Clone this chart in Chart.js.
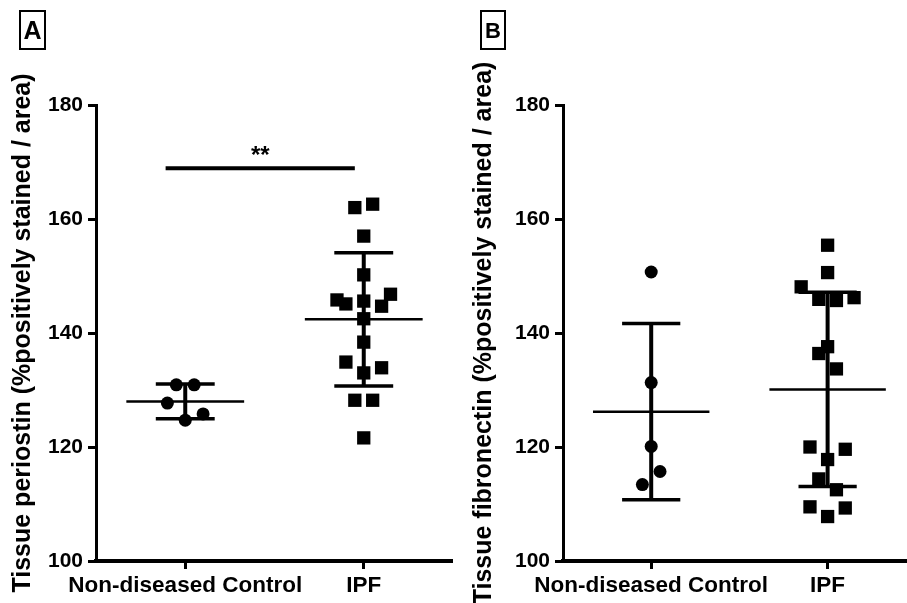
<!DOCTYPE html>
<html>
<head>
<meta charset="utf-8">
<script src="https://cdn.jsdelivr.net/npm/chart.js@4.4.0/dist/chart.umd.min.js"></script>
<style>
body{margin:0;background:#fff;width:907px;height:603px;overflow:hidden;position:relative;font-family:"Liberation Sans",Arial,sans-serif;}
.wrap{position:absolute;top:0;height:603px;}
#wa{left:0;width:453px;}
#wb{left:467px;width:440px;}
.tag{position:absolute;top:10px;height:36px;border:2px solid #000;font-weight:bold;text-align:center;line-height:37px;}
</style>
</head>
<body>
<div class="wrap" id="wa"><canvas id="ca" width="453" height="603"></canvas></div>
<div class="wrap" id="wb"><canvas id="cb" width="440" height="603"></canvas></div>
<div class="tag" style="left:19px;width:23px;font-size:25px">A</div>
<div class="tag" style="left:480px;width:22px;font-size:22px">B</div>
<script>
var groups = ['Non-diseased Control', 'IPF'];

// panel A: periostin
var periCtrl  = [130.9, 130.9, 127.7, 124.7, 125.8];
var periCtrlX = [-0.05, 0.05, -0.1, 0, 0.1];
var periIpf   = [162.0, 162.6, 157.0, 150.2, 145.8, 145.1, 145.6, 146.8, 144.7, 142.5, 138.4, 134.9, 133.9, 133.0, 128.2, 128.2, 121.6];
var periIpfX  = [-0.05, 0.05, 0, 0, -0.15, -0.1, 0, 0.15, 0.1, 0, 0, -0.1, 0.1, 0, -0.05, 0.05, 0];
var periMean  = [128.0, 142.4];
var periSd    = [3.05, 11.7];
var sigX = [-0.11, 0.95];
var sigY = 168.9;
var sigText = '**';

// panel B: fibronectin
var fibCtrl  = [150.7, 131.3, 120.1, 115.7, 113.4];
var fibCtrlX = [0, 0, 0, 0.05, -0.05];
var fibIpf   = [155.4, 150.6, 148.1, 145.9, 145.7, 146.2, 137.6, 136.4, 133.7, 120.0, 119.6, 117.8, 114.4, 112.5, 109.5, 107.8, 109.3];
var fibIpfX  = [0, 0, -0.15, -0.05, 0.05, 0.15, 0, -0.05, 0.05, -0.1, 0.1, 0, -0.05, 0.05, -0.1, 0, 0.1];
var fibMean  = [126.2, 130.1];
var fibSd    = [15.45, 17.05];

var black = '#000';
var font = 'Liberation Sans';

function seg(x1, y1, x2, y2, w) {
  return {
    data: [{x: x1, y: y1}, {x: x2, y: y2}],
    showLine: true, borderColor: black, borderWidth: w,
    pointRadius: 0, borderCapStyle: 'butt', clip: false
  };
}

var sigPlugin = {
  id: 'sig',
  afterDatasetsDraw: function(chart, args, opts) {
    if (!opts.text) return;
    var ctx = chart.ctx, x = chart.scales.x, y = chart.scales.y;
    ctx.save();
    ctx.fillStyle = black;
    ctx.font = 'bold 24px "' + font + '"';
    ctx.textAlign = 'center';
    ctx.textBaseline = 'alphabetic';
    ctx.fillText(opts.text, x.getPixelForValue(opts.x), y.getPixelForValue(opts.y) - 5);
    ctx.restore();
  }
};

function makePanel(id, ctrl, ctrlX, ipf, ipfX, mean, sd, title, xMax, titlePad, sig) {
  var ds = [];
  ds.push({
    data: ctrl.map(function(v, i) { return {x: ctrlX[i], y: v}; }),
    pointStyle: 'circle', pointRadius: 6.5, backgroundColor: black, borderWidth: 0, clip: false
  });
  ds.push({
    data: ipf.map(function(v, i) { return {x: 1 + ipfX[i], y: v}; }),
    pointStyle: 'rect', pointRadius: 9.4, backgroundColor: black, borderWidth: 0, clip: false
  });
  for (var g = 0; g < mean.length; g++) {
    var m = mean[g], s = sd[g];
    ds.push(seg(g - 0.33, m, g + 0.33, m, 2.5));
    ds.push(seg(g, m - s, g, m + s, 4));
    ds.push(seg(g - 0.165, m + s, g + 0.165, m + s, 3.5));
    ds.push(seg(g - 0.165, m - s, g + 0.165, m - s, 3.5));
  }
  if (sig) ds.push(seg(sig.x[0], sig.y, sig.x[1], sig.y, 4));

  new Chart(document.getElementById(id), {
    type: 'scatter',
    data: {datasets: ds},
    plugins: [sigPlugin],
    options: {
      responsive: false,
      animation: false,
      layout: {autoPadding: false, padding: {top: 105, right: 0, left: 0, bottom: 0}},
      plugins: {
        legend: {display: false},
        tooltip: {enabled: false},
        sig: sig ? {text: sig.text, x: (sig.x[0] + sig.x[1]) / 2, y: sig.y} : {}
      },
      scales: {
        x: {
          type: 'linear', min: -0.5, max: xMax,
          afterBuildTicks: function(s) { s.ticks = groups.map(function(c, i) { return {value: i}; }); },
          afterFit: function(s) { s.height = 42; },
          ticks: {
            callback: function(v) { return groups[v]; },
            color: black, font: {family: font, size: 22.5, weight: 'bold'},
            padding: 3, maxRotation: 0, autoSkip: false
          },
          grid: {drawOnChartArea: false, drawTicks: true, tickLength: 8, tickWidth: 3, tickColor: black, color: black},
          border: {display: true, width: 4, color: black}
        },
        y: {
          min: 100, max: 180,
          afterFit: function(s) { s.width = 96; },
          ticks: {stepSize: 20, color: black, font: {family: font, size: 21, weight: 'bold'}, padding: 5},
          grid: {drawOnChartArea: false, drawTicks: true, tickLength: 8, tickWidth: 3, tickColor: black, color: black},
          border: {display: true, width: 3, color: black},
          title: {
            display: true, text: title, color: black,
            font: {family: font, size: 25, weight: 'bold'},
            padding: {top: titlePad, bottom: 0}
          }
        }
      }
    }
  });
}

makePanel('ca', periCtrl, periCtrlX, periIpf, periIpfX, periMean, periSd,
  'Tissue periostin (%positively stained / area)', 1.5, 8, {x: sigX, y: sigY, text: sigText});
makePanel('cb', fibCtrl, fibCtrlX, fibIpf, fibIpfX, fibMean, fibSd,
  'Tissue fibronectin (%positively stained / area)', 1.45, 2, null);
</script>
</body>
</html>
